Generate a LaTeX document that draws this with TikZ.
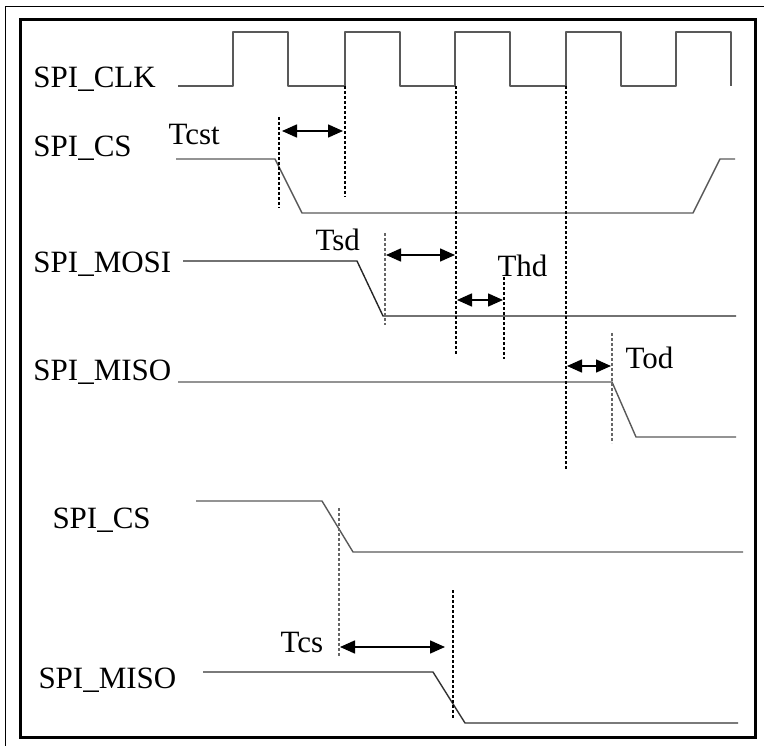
\documentclass[tikz,border=0pt]{standalone}
\usepackage{fontspec}
\setmainfont{Liberation Serif}
\usetikzlibrary{arrows.meta}

\begin{document}
\begin{tikzpicture}[
    x=1pt, y=-1pt, line width=1pt,
    sigtext/.style={anchor=base west,inner sep=0pt,font=\fontsize{31}{36}\selectfont},
    signal/.style={draw=black!65,line width=1.4pt,line join=round},
    guide/.style={densely dashed,line width=1.3pt},
    faint/.style={guide,draw=black!60},
    timing/.style={{Triangle[length=15pt,width=13pt]}-{Triangle[length=15pt,width=13pt]},line width=1.6pt},
    frame/.style={line width=3pt}
]
\path[use as bounding box] (0,0) rectangle (764,746);

% outer and inner frame
\draw[line width=1pt] (5,746) -- (5,7) -- (764,7);
\draw[frame] (20,20) rectangle (755,737);

% signal names
\node[sigtext] (clk)   at (33,88)  {SPI\_CLK};
\node[sigtext] (cs)    at (33,157) {SPI\_CS};
\node[sigtext] (mosi)  at (33,273) {SPI\_MOSI};
\node[sigtext] (miso)  at (33,381) {SPI\_MISO};
\node[sigtext] (csb)   at (52,528) {SPI\_CS};
\node[sigtext] (misob) at (38,688) {SPI\_MISO};

% waveforms
\draw[signal] (178,86) foreach \r in {233,345,455,566,676} {
    -- (\r,86) -- (\r,32) -- (\r+55,32) -- (\r+55,86) };
\draw[signal] (176,159) -- (275,159) -- (302,213) -- (693,213) -- (720,159) -- (735,159);
\draw[signal,draw=black!85] (183,261) -- (357,261) -- (383,316) -- (736,316);
\draw[signal] (178,382) -- (612,382) -- (636,437) -- (736,437);
\draw[signal] (196,501) -- (322,501) -- (353,552) -- (743,552);
\draw[signal,draw=black!80] (203,672) -- (433,672) -- (465,723) -- (738,723);

% reference edges
\draw[guide] (279,117) -- (279,208);
\draw[guide] (345,86) -- (345,197);
\draw[faint] (385,233) -- (385,325);
\draw[guide] (456,86) -- (456,354);
\draw[guide] (504,277) -- (504,359);
\draw[guide] (566,86) -- (566,470);
\draw[faint] (612,333) -- (612,443);
\draw[faint] (339,508) -- (339,657);
\draw[guide] (453,590) -- (453,718);

% delays
\draw[timing] (282,131) -- (343,131);
\node[sigtext] (tcst) at (168,145) {Tcst};
\draw[timing] (386,255) -- (455,255);
\node[sigtext] (tsd) at (315,251) {Tsd};
\draw[timing] (457,300) -- (503,300);
\node[sigtext] (thd) at (497,277) {Thd};
\draw[timing] (567,366) -- (611,366);
\node[sigtext] (tod) at (625,369) {Tod};
\draw[timing] (340,647) -- (445,647);
\node[sigtext] (tcs) at (280,652) {Tcs};
\end{tikzpicture}
\end{document}
